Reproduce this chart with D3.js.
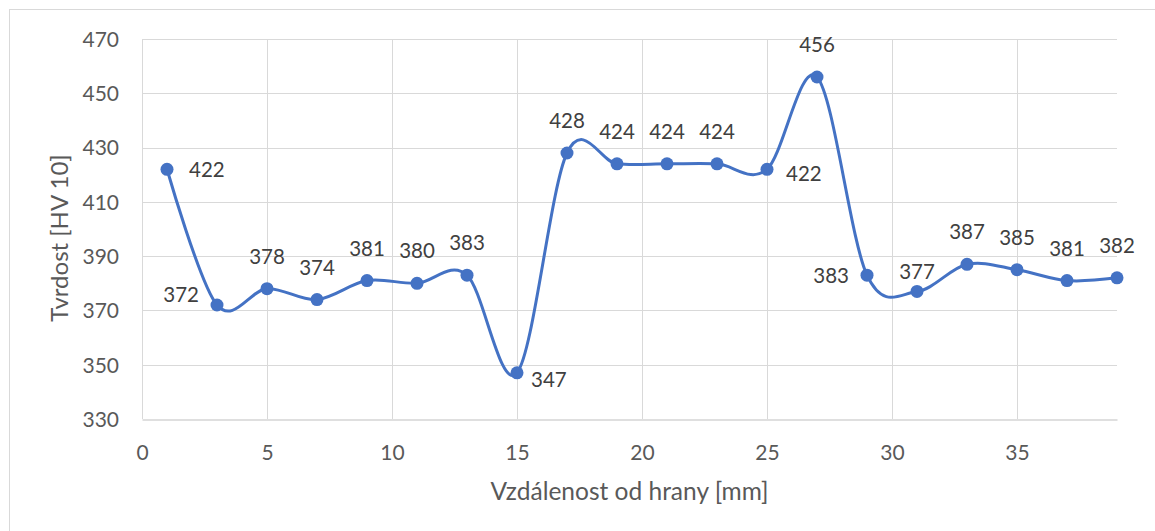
<!DOCTYPE html>
<html>
<head>
<meta charset="utf-8">
<script src="https://cdn.jsdelivr.net/npm/d3@7"></script>
<style>
  html, body { margin: 0; padding: 0; background: #fff; }
  svg { display: block; font-family: Lato, "Open Sans", sans-serif; }
</style>
</head>
<body>
<svg id="chart" width="1155" height="531"></svg>
<script>
// Hardness profile across the weld, measured every 2 mm from the edge
const distanceMm = [1, 3, 5, 7, 9, 11, 13, 15, 17, 19, 21, 23, 25, 27, 29, 31, 33, 35, 37, 39];
const hardnessHV = [422, 372, 378, 374, 381, 380, 383, 347, 428, 424, 424, 424, 422, 456, 383, 377, 387, 385, 381, 382];
const xTicks = [0, 5, 10, 15, 20, 25, 30, 35];
const yTicks = [330, 350, 370, 390, 410, 430, 450, 470];
const xTitle = "Vzdálenost od hrany [mm]";
const yTitle = "Tvrdost [HV 10]";

// where each value label sits relative to its point
const labelSide = ["right", "upleft", "above", "above", "above", "above", "above", "belowright",
                   "above", "above", "above", "above", "belowright2", "above", "left",
                   "nearabove", "above", "above", "above", "above"];

const svg = d3.select("#chart");
const plot = { left: 142, right: 1117, top: 39, bottom: 419 };

const x = d3.scaleLinear().domain([0, 39]).range([plot.left, plot.right]);
const y = d3.scaleLinear().domain([330, 470]).range([plot.bottom, plot.top]);

// chart frame
svg.append("rect")
  .attr("x", 9.5).attr("y", 9.5)
  .attr("width", 1300).attr("height", 700)
  .attr("fill", "none").attr("stroke", "#d9d9d9").attr("stroke-width", 1);

// gridlines
const grid = svg.append("g");
grid.selectAll("line.h").data(yTicks.filter(d => d !== 330)).join("line")
  .attr("x1", plot.left).attr("x2", plot.right)
  .attr("y1", d => Math.round(y(d)) + 0.5).attr("y2", d => Math.round(y(d)) + 0.5)
  .attr("stroke", "#d9d9d9").attr("stroke-width", 1);
grid.selectAll("line.v").data(xTicks).join("line")
  .attr("y1", plot.top).attr("y2", plot.bottom)
  .attr("x1", d => Math.round(x(d)) + 0.5).attr("x2", d => Math.round(x(d)) + 0.5)
  .attr("stroke", "#d9d9d9").attr("stroke-width", 1);

// axes
const xAxis = d3.axisBottom(x).tickValues(xTicks).tickSize(0).tickPadding(20);
const gx = svg.append("g").attr("transform", `translate(0,${Math.round(y(330)) + 0.5})`).call(xAxis);
gx.select(".domain").attr("stroke", "#bfbfbf").attr("stroke-width", 1);
gx.selectAll("text").attr("fill", "#595959").attr("font-size", 21).attr("dy", "0.35em").attr("y", 33);

const yAxis = d3.axisLeft(y).tickValues(yTicks).tickSize(0).tickPadding(23);
const gy = svg.append("g").attr("transform", `translate(${plot.left},0)`).call(yAxis);
gy.select(".domain").remove();
gy.selectAll("text").attr("fill", "#595959").attr("font-size", 21).attr("dy", "0.35em");
gx.selectAll(".tick text").attr("font-family", "Lato, sans-serif");
gy.selectAll(".tick text").attr("font-family", "Lato, sans-serif");

// axis titles
svg.append("text")
  .attr("x", (plot.left + plot.right) / 2).attr("y", 491)
  .attr("text-anchor", "middle").attr("dy", "0.35em")
  .attr("fill", "#595959").attr("font-size", 24.5)
  .text(xTitle);
svg.append("text")
  .attr("transform", `translate(60,238) rotate(-90)`)
  .attr("text-anchor", "middle").attr("dy", "0.35em")
  .attr("fill", "#595959").attr("font-size", 24)
  .text(yTitle);

// smoothed line
const points = distanceMm.map((d, i) => ({ x: d, v: hardnessHV[i], side: labelSide[i] }));
const line = d3.line()
  .x(d => x(d.x)).y(d => y(d.v))
  .curve(d3.curveCardinal.tension(0));
svg.append("path")
  .datum(points)
  .attr("d", line)
  .attr("fill", "none")
  .attr("stroke", "#4472c4")
  .attr("stroke-width", 3)
  .attr("stroke-linejoin", "round");

svg.append("g").selectAll("circle").data(points).join("circle")
  .attr("cx", d => x(d.x)).attr("cy", d => y(d.v))
  .attr("r", 6.5).attr("fill", "#4472c4");

// value labels
const place = {
  above: { dx: 0, dy: -32, anchor: "middle" },
  nearabove: { dx: 0, dy: -20, anchor: "middle" },
  right: { dx: 22, dy: 1, anchor: "start" },
  belowright: { dx: 14, dy: 7, anchor: "start" },
  belowright2: { dx: 19, dy: 5, anchor: "start" },
  left: { dx: -18, dy: 1, anchor: "end" },
  upleft: { dx: -18, dy: -10, anchor: "end" }
};
svg.append("g").selectAll("text").data(points).join("text")
  .attr("x", d => x(d.x) + place[d.side].dx)
  .attr("y", d => y(d.v) + place[d.side].dy)
  .attr("dy", "0.35em")
  .attr("text-anchor", d => place[d.side].anchor)
  .attr("fill", "#404040").attr("font-size", 20.5)
  .text(d => d.v);
</script>
</body>
</html>
